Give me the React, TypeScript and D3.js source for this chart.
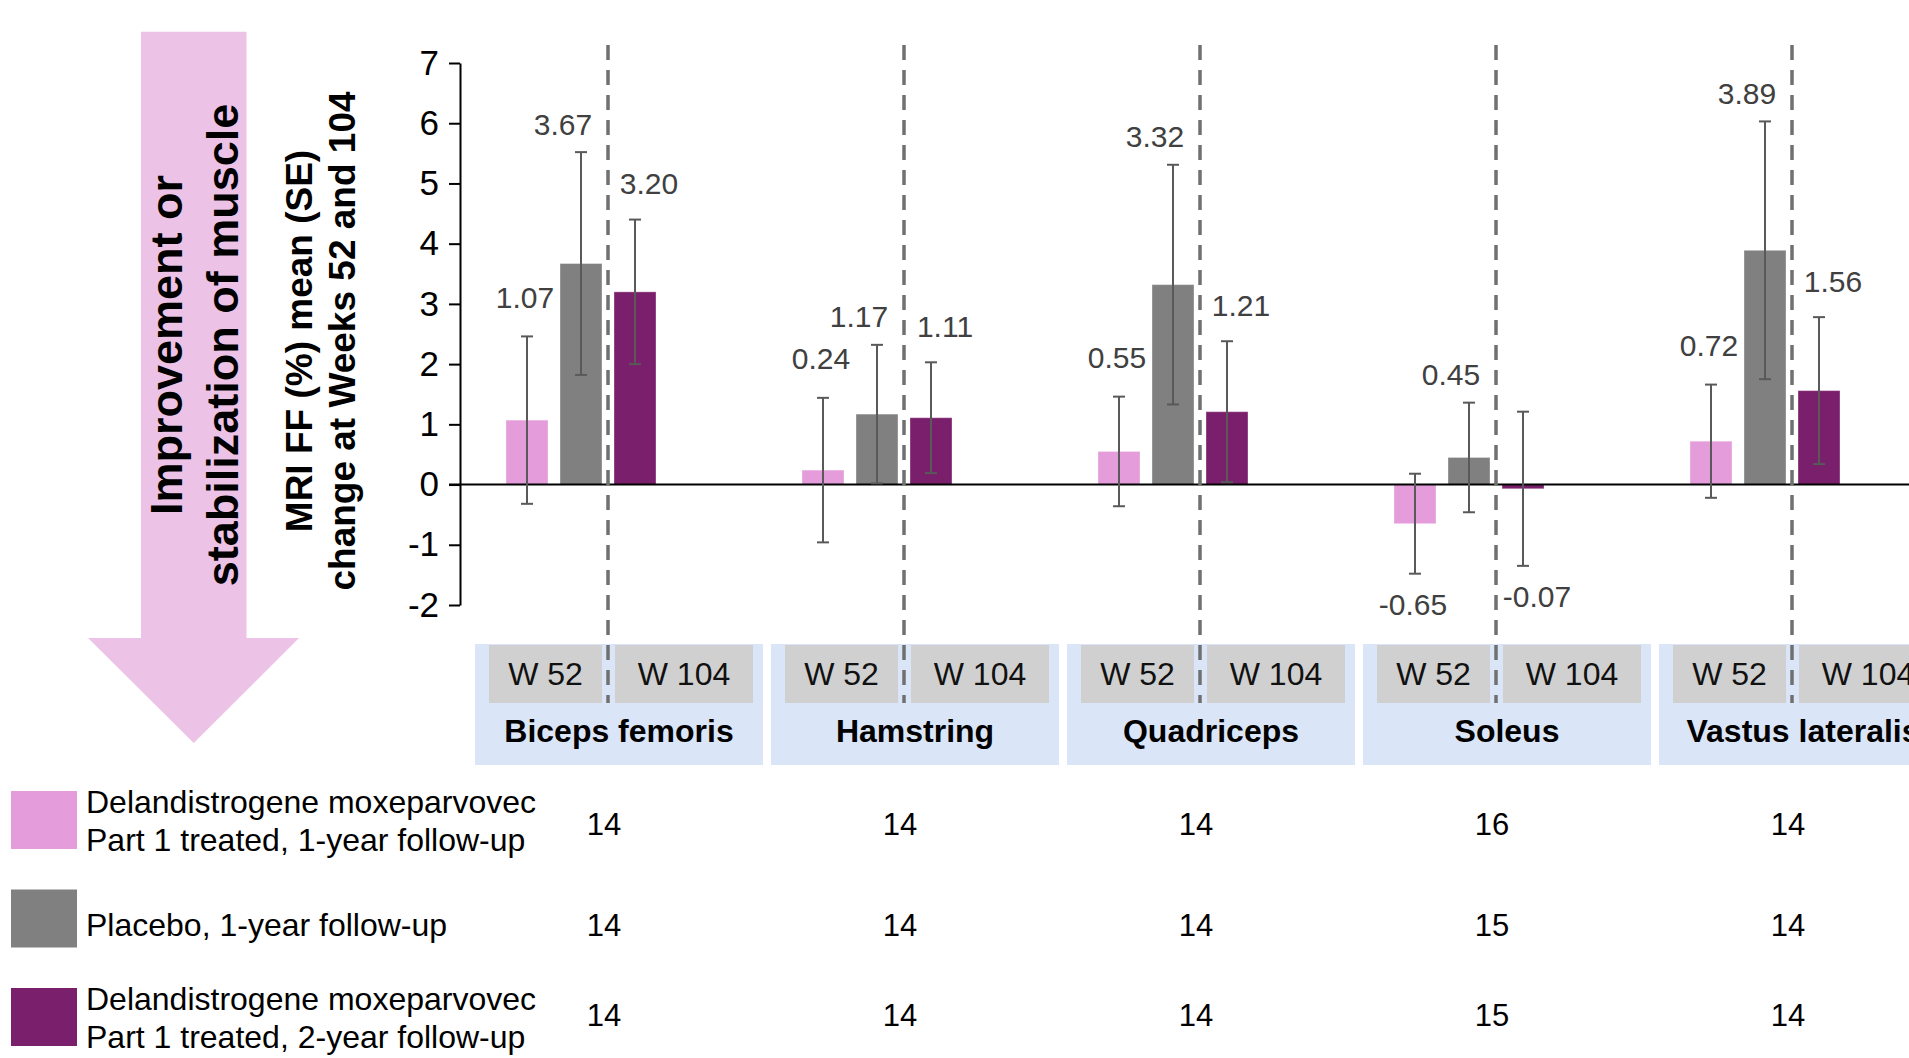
import React, { useEffect, useRef } from 'react';
import * as d3 from 'd3';

/* ──────────  data  ────────── */
const muscles = ['Biceps femoris', 'Hamstring', 'Quadriceps', 'Soleus', 'Vastus lateralis'];
const seriesKeys = ['treated52', 'placebo', 'treated104'];
const seriesNames = [
  ['Delandistrogene moxeparvovec', 'Part 1 treated, 1-year follow-up'],
  ['Placebo, 1-year follow-up'],
  ['Delandistrogene moxeparvovec', 'Part 1 treated, 2-year follow-up'],
];
const treated52Mean = [1.07, 0.24, 0.55, -0.65, 0.72];
const treated52SE = [1.39, 1.2, 0.91, 0.83, 0.94];
const placeboMean = [3.67, 1.17, 3.32, 0.45, 3.89];
const placeboSE = [1.85, 1.15, 1.99, 0.91, 2.14];
const treated104Mean = [3.2, 1.11, 1.21, -0.07, 1.56];
const treated104SE = [1.2, 0.92, 1.17, 1.28, 1.22];
const treated52N = [14, 14, 14, 16, 14];
const placeboN = [14, 14, 14, 15, 14];
const treated104N = [14, 14, 14, 15, 14];
const yTicks = [-2, -1, 0, 1, 2, 3, 4, 5, 6, 7];
const weekLabels = ['W 52', 'W 104'];
const arrowText = ['Improvement or', 'stabilization of muscle'];
const yTitle = ['MRI FF (%) mean (SE)', 'change at Weeks 52 and 104'];

/* ──────────  style  ────────── */
const W = 1909, H = 1058;
const FONT = "'Liberation Sans', Arial, sans-serif";
const colors = ['#E49CDA', '#808080', '#7A1F6B'];
const means = [treated52Mean, placeboMean, treated104Mean];
const ses = [treated52SE, placeboSE, treated104SE];
const ns = [treated52N, placeboN, treated104N];
const labelDx = [-2, -18, 14];   // label nudges per series
const labelGap = [39, 28, 36];
const nRowDy = [4, 7, -2];       // n row offset from swatch middle

export default function App() {
  const svgRef = useRef<SVGSVGElement | null>(null);

  useEffect(() => {
    const svg = d3.select(svgRef.current);
    svg.selectAll('*').remove();
    svg.attr('font-family', FONT);

    const y = d3.scaleLinear().domain([-2, 7]).range([605, 63]);
    const x = d3.scaleBand<string>().domain(muscles).range([475, 475 + 5 * 296 - 8]).paddingInner(8 / 296);
    const xs = d3.scaleBand<string>().domain(seriesKeys).range([31, 181]).paddingInner(12 / 54);
    const bw = xs.bandwidth();
    const dashOff = (xs('placebo')! + bw + xs('treated104')!) / 2;
    const dashX = (m: string) => x(m)! + dashOff;

    /* arrow */
    const ar = { l: 141, r: 246.5, top: 31.7, neck: 638, hl: 88, hr: 299, tip: 743 };
    const cx = (ar.l + ar.r) / 2;
    svg.append('polygon')
      .attr('points', [
        [ar.l, ar.top], [ar.r, ar.top], [ar.r, ar.neck], [ar.hr, ar.neck],
        [cx, ar.tip], [ar.hl, ar.neck], [ar.l, ar.neck]
      ].map(p => p.join(',')).join(' '))
      .attr('fill', '#ECC3E6');

    const at = svg.append('text')
      .attr('transform', `translate(182,345) rotate(-90)`)
      .attr('text-anchor', 'middle')
      .attr('font-size', 45)
      .attr('font-weight', 700)
      .attr('fill', '#000');
    arrowText.forEach((t, i) => at.append('tspan').attr('x', 0).attr('y', i * 55.5).text(t));

    /* y title */
    const yt = svg.append('text')
      .attr('transform', `translate(311.5,341) rotate(-90)`)
      .attr('text-anchor', 'middle')
      .attr('font-size', 37)
      .attr('font-weight', 700)
      .attr('fill', '#000');
    yTitle.forEach((t, i) => yt.append('tspan').attr('x', 0).attr('y', i * 43.5).text(t));

    /* category boxes */
    const g = svg.append('g');
    muscles.forEach(m => {
      const x0 = x(m)!;
      g.append('rect').attr('x', x0).attr('y', 644).attr('width', x.bandwidth()).attr('height', 121).attr('fill', '#DAE5F7');
      g.append('rect').attr('x', x0 + 14).attr('y', 645).attr('width', dashOff - 20).attr('height', 58).attr('fill', '#D0D0D0');
      g.append('rect').attr('x', x0 + dashOff + 7).attr('y', 645).attr('width', 278 - dashOff - 7).attr('height', 58).attr('fill', '#D0D0D0');
      const wc = [x0 + 14 + (dashOff - 20) / 2, x0 + dashOff + 7 + (278 - dashOff - 7) / 2];
      weekLabels.forEach((w, i) => {
        g.append('text').attr('x', wc[i]).attr('y', 674).attr('dy', '0.35em')
          .attr('text-anchor', 'middle').attr('font-size', 32).attr('fill', '#111').text(w);
      });
      g.append('text').attr('x', x0 + x.bandwidth() / 2).attr('y', 731).attr('dy', '0.35em')
        .attr('text-anchor', 'middle').attr('font-size', 32).attr('font-weight', 700).attr('fill', '#000').text(m);
    });

    /* bars */
    seriesKeys.forEach((k, s) => {
      svg.append('g').selectAll('rect').data(muscles).join('rect')
        .attr('x', m => x(m)! + xs(k)!)
        .attr('y', (_, i) => y(Math.max(0, means[s][i])))
        .attr('width', bw)
        .attr('height', (_, i) => Math.abs(y(means[s][i]) - y(0)))
        .attr('fill', colors[s])
        .attr('stroke', '#fff').attr('stroke-opacity', 0.35).attr('stroke-width', 1);
    });

    /* zero line */
    svg.append('line').attr('x1', 449).attr('x2', W).attr('y1', y(0)).attr('y2', y(0))
      .attr('stroke', '#000').attr('stroke-width', 2);

    /* error bars */
    seriesKeys.forEach((k, s) => {
      const eg = svg.append('g').attr('stroke', '#595959').attr('stroke-width', 2);
      muscles.forEach((m, i) => {
        const c = x(m)! + xs(k)! + bw / 2;
        const lo = y(means[s][i] - ses[s][i]), hi = y(means[s][i] + ses[s][i]);
        eg.append('line').attr('x1', c).attr('x2', c).attr('y1', lo).attr('y2', hi);
        eg.append('line').attr('x1', c - 6).attr('x2', c + 6).attr('y1', lo).attr('y2', lo);
        eg.append('line').attr('x1', c - 6).attr('x2', c + 6).attr('y1', hi).attr('y2', hi);
      });
    });

    /* y axis */
    svg.append('g')
      .attr('transform', 'translate(460,0)')
      .call(d3.axisLeft(y).tickValues(yTicks).tickFormat(d => String(d)).tickSize(11).tickSizeOuter(0).tickPadding(10))
      .call(a => a.selectAll('path,line').attr('stroke', '#000').attr('stroke-width', 2))
      .call(a => a.selectAll('text').attr('font-size', 35).attr('font-family', FONT).attr('fill', '#000'));

    /* dashed separators */
    svg.append('g').selectAll('line').data(muscles).join('line')
      .attr('x1', dashX).attr('x2', dashX).attr('y1', 45).attr('y2', 703)
      .attr('stroke', '#707070').attr('stroke-width', 3.5).attr('stroke-dasharray', '15 10');

    /* value labels */
    seriesKeys.forEach((k, s) => {
      svg.append('g').selectAll('text').data(muscles).join('text')
        .attr('x', m => x(m)! + xs(k)! + bw / 2 + labelDx[s])
        .attr('y', (_, i) => {
          const v = means[s][i], e = ses[s][i];
          return v >= 0 ? y(v + e) - labelGap[s] : y(v - e) + 31;
        })
        .attr('dy', '0.35em')
        .attr('text-anchor', 'middle')
        .attr('font-size', 30)
        .attr('fill', '#404040')
        .text((_, i) => means[s][i].toFixed(2));
    });

    /* legend + n table */
    seriesNames.forEach((lines, s) => {
      const top = 791 + s * 98.5;
      const mid = top + 29;
      svg.append('rect').attr('x', 11).attr('y', top).attr('width', 66).attr('height', 58).attr('fill', colors[s]);
      const lt = svg.append('text').attr('font-size', 32).attr('fill', '#000');
      lines.forEach((t, j) => {
        const cy = lines.length === 1 ? mid + 6 : mid + 1 + (j === 0 ? -19 : 19);
        lt.append('tspan').attr('x', 86).attr('y', cy).attr('dy', '0.35em').text(t);
      });
      svg.append('g').selectAll('text').data(muscles).join('text')
        .attr('x', m => dashX(m) - 4)
        .attr('y', mid + nRowDy[s])
        .attr('dy', '0.35em')
        .attr('text-anchor', 'middle')
        .attr('font-size', 31)
        .attr('fill', '#000')
        .text((_, i) => ns[s][i]);
    });
  }, []);

  return (
    <div style={{ position: 'absolute', left: 0, top: 0, background: '#fff' }}>
      <svg ref={svgRef} width={W} height={H} style={{ display: 'block' }} />
    </div>
  );
}
